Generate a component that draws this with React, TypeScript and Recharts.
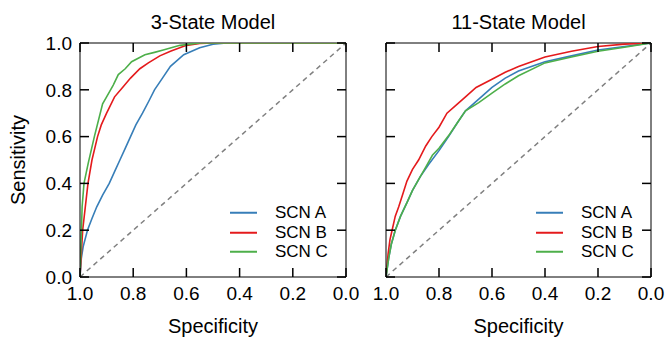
import React from "react";
import { LineChart, Line, XAxis, YAxis, Legend, ReferenceLine } from "recharts";

// ---- Data (specificity, sensitivity) ----
const tickValues = [0, 0.2, 0.4, 0.6, 0.8, 1.0];

// 3-State Model
const s3ASpec = [1, 0.995, 0.988, 0.972, 0.955, 0.937, 0.915, 0.89, 0.87, 0.85, 0.83, 0.81, 0.79, 0.765, 0.742, 0.72, 0.69, 0.66, 0.61, 0.55, 0.5, 0.45, 0];
const s3ASens = [0, 0.08, 0.13, 0.2, 0.25, 0.3, 0.35, 0.4, 0.45, 0.5, 0.55, 0.6, 0.65, 0.7, 0.75, 0.8, 0.85, 0.9, 0.95, 0.98, 0.995, 1, 1];
const s3BSpec = [1, 0.995, 0.99, 0.98, 0.97, 0.955, 0.934, 0.92, 0.9, 0.87, 0.84, 0.81, 0.775, 0.743, 0.7, 0.66, 0.6, 0.55, 0.5, 0];
const s3BSens = [0, 0.1, 0.2, 0.3, 0.4, 0.5, 0.6, 0.65, 0.7, 0.77, 0.81, 0.85, 0.89, 0.915, 0.945, 0.965, 0.99, 0.998, 1, 1];
const s3CSpec = [1, 0.996, 0.992, 0.985, 0.969, 0.946, 0.915, 0.9, 0.875, 0.856, 0.83, 0.806, 0.756, 0.72, 0.687, 0.624, 0.55, 0];
const s3CSens = [0, 0.15, 0.3, 0.4, 0.487, 0.6, 0.74, 0.77, 0.82, 0.865, 0.89, 0.92, 0.95, 0.96, 0.97, 0.99, 1, 1];

// 11-State Model
const s11ASpec = [1, 0.99, 0.98, 0.965, 0.945, 0.92, 0.9, 0.87, 0.84, 0.8, 0.764, 0.73, 0.7, 0.65, 0.6, 0.55, 0.5, 0.4, 0.3, 0.2, 0.1, 0];
const s11ASens = [0, 0.08, 0.14, 0.2, 0.26, 0.32, 0.37, 0.43, 0.48, 0.54, 0.6, 0.66, 0.71, 0.76, 0.81, 0.85, 0.88, 0.92, 0.945, 0.97, 0.985, 1];
const s11BSpec = [1, 0.992, 0.985, 0.977, 0.965, 0.952, 0.935, 0.921, 0.9, 0.877, 0.85, 0.827, 0.8, 0.77, 0.73, 0.7, 0.66, 0.6, 0.55, 0.5, 0.4, 0.3, 0.2, 0.1, 0];
const s11BSens = [0, 0.1, 0.16, 0.2, 0.26, 0.3, 0.36, 0.41, 0.46, 0.5, 0.56, 0.6, 0.64, 0.7, 0.74, 0.77, 0.81, 0.845, 0.875, 0.9, 0.94, 0.965, 0.985, 0.995, 1];
const s11CSpec = [1, 0.99, 0.98, 0.965, 0.945, 0.92, 0.9, 0.875, 0.85, 0.825, 0.8, 0.76, 0.73, 0.7, 0.65, 0.6, 0.55, 0.5, 0.4, 0.3, 0.2, 0.1, 0];
const s11CSens = [0, 0.08, 0.14, 0.2, 0.26, 0.32, 0.37, 0.42, 0.47, 0.52, 0.55, 0.61, 0.66, 0.71, 0.745, 0.786, 0.825, 0.86, 0.915, 0.94, 0.965, 0.982, 1];

const diagSpec = [1, 0];
const diagSens = [0, 1];

const seriesNames = ["SCN A", "SCN B", "SCN C"];
const seriesColors = ["#377eb8", "#e41a1c", "#4daf4a"];

const toPts = (xs: number[], ys: number[]) => xs.map((x, i) => ({ x, y: ys[i] }));

const FONT = '"Liberation Sans", Arial, Helvetica, sans-serif';
const fmt = (v: number) => v.toFixed(1);
const TICK_LEN = 9;
const TICK_W = 1.5;
const TICK_FS = 19;
const BOTTOM_MARGIN = 10;
const LEFT_MARGIN = 8;
const TICK_COLOR = "#000";
const CHART_H = 339;
const M_TOP = 43;
const M_BOTTOM = 32;
const X_AXIS_H = 30;
const PLOT_H = CHART_H - M_TOP - M_BOTTOM - X_AXIS_H;

// Bottom tick: label plus inward marks on bottom and top edges.
const makeBottomTick = () => (p: any) => {
  const px = Number(p.x);
  const axisY = Number(p.y) - BOTTOM_MARGIN;
  const topY = axisY - PLOT_H;
  return (
    <g>
      <rect x={px - TICK_W / 2} y={axisY - TICK_LEN} width={TICK_W} height={TICK_LEN} fill={TICK_COLOR} />
      <rect x={px - TICK_W / 2} y={topY} width={TICK_W} height={TICK_LEN} fill={TICK_COLOR} />
      <text x={px} y={Number(p.y)} dy="0.71em" textAnchor="middle" fontSize={TICK_FS} fontFamily={FONT} fill="#000">
        {fmt(p.payload.value)}
      </text>
    </g>
  );
};
// Left tick: optional label plus inward marks on left and right edges.
const makeLeftTick = (showLabel: boolean, plotW: number) => (p: any) => {
  const py = Number(p.y);
  const axisX = Number(p.x) + LEFT_MARGIN;
  const rightX = axisX + plotW;
  return (
    <g>
      <rect x={axisX} y={py - TICK_W / 2} width={TICK_LEN} height={TICK_W} fill={TICK_COLOR} />
      <rect x={rightX - TICK_LEN} y={py - TICK_W / 2} width={TICK_LEN} height={TICK_W} fill={TICK_COLOR} />
      {showLabel ? (
        <text x={Number(p.x)} y={py} dy="0.355em" textAnchor="end" fontSize={TICK_FS} fontFamily={FONT} fill="#000">
          {fmt(p.payload.value)}
        </text>
      ) : null}
    </g>
  );
};

const BottomTick = makeBottomTick();
const LeftTickPanel1 = makeLeftTick(true, 266);
const LeftTickPanel2 = makeLeftTick(false, 265);

const LegendBox = (props: any) => {
  const payload = (props.payload || []).filter((p: any) => p.type !== "none");
  return (
    <div style={{ fontFamily: FONT }}>
      {payload.map((p: any) => (
        <div key={p.value} style={{ display: "flex", alignItems: "center", height: 19.5 }}>
          <svg width={27} height={19.5} style={{ display: "block" }}>
            <line x1={0} x2={27} y1={9.75} y2={9.75} stroke={p.color} strokeWidth={2} />
          </svg>
          <span style={{ marginLeft: 18, fontSize: 17, lineHeight: "19.5px", color: "#000", whiteSpace: "nowrap" }}>{p.value}</span>
        </div>
      ))}
    </div>
  );
};

type PanelProps = {
  width: number;
  margin: { top: number; right: number; bottom: number; left: number };
  series: { x: number; y: number }[][];
  leftTick: any;
  legendLeft: number;
};

const axisLineStyle = { stroke: "#000", strokeWidth: 1 };

const Panel = ({ width, margin, series, leftTick, legendLeft }: PanelProps) => {
  const LeftTick = leftTick;
  return (
    <LineChart width={width} height={CHART_H} margin={margin} style={{ fontFamily: FONT }}>
      <XAxis
        xAxisId="bottom"
        type="number"
        dataKey="x"
        domain={[0, 1]}
        reversed
        ticks={tickValues}
        tick={<BottomTick />}
        tickSize={0}
        tickMargin={BOTTOM_MARGIN}
        tickLine={false}
        height={X_AXIS_H}
        allowDataOverflow
        axisLine={axisLineStyle}
        interval={0}
      />
      <YAxis
        yAxisId="left"
        type="number"
        dataKey="y"
        domain={[0, 1]}
        ticks={tickValues}
        tick={<LeftTick />}
        tickSize={0}
        tickMargin={LEFT_MARGIN}
        tickLine={false}
        width={40}
        allowDataOverflow
        axisLine={axisLineStyle}
        interval={0}
      />
      <ReferenceLine xAxisId="bottom" yAxisId="left" y={1} stroke="#000" strokeWidth={1} ifOverflow="visible" />
      <ReferenceLine xAxisId="bottom" yAxisId="left" x={0} stroke="#000" strokeWidth={1} ifOverflow="visible" />
      <Line
        xAxisId="bottom"
        yAxisId="left"
        data={toPts(diagSpec, diagSens)}
        dataKey="y"
        name="diag"
        legendType="none"
        stroke="#808080"
        strokeWidth={1.5}
        strokeDasharray="5 4"
        dot={false}
        isAnimationActive={false}
      />
      {series.map((pts, i) => (
        <Line
          key={seriesNames[i]}
          xAxisId="bottom"
          yAxisId="left"
          data={pts}
          dataKey="y"
          name={seriesNames[i]}
          stroke={seriesColors[i]}
          strokeWidth={1.6}
          dot={false}
          type="linear"
          isAnimationActive={false}
        />
      ))}
      <Legend
        layout="vertical"
        align="center"
        verticalAlign="middle"
        content={<LegendBox />}
        wrapperStyle={{ left: legendLeft, top: 203, width: "auto" }}
      />
    </LineChart>
  );
};

export default function App() {
  const left = [toPts(s3ASpec, s3ASens), toPts(s3BSpec, s3BSens), toPts(s3CSpec, s3CSens)];
  const right = [toPts(s11ASpec, s11ASens), toPts(s11BSpec, s11BSens), toPts(s11CSpec, s11CSens)];
  return (
    <div style={{ position: "fixed", left: 0, top: 0, width: 668, height: 339, background: "#fff", fontFamily: FONT }}>
      <div style={{ position: "absolute", left: 0, top: 0 }}>
        <Panel width={370} margin={{ top: M_TOP, right: 24, bottom: M_BOTTOM, left: 40 }} series={left} leftTick={LeftTickPanel1} legendLeft={230} />
      </div>
      <div style={{ position: "absolute", left: 346, top: 0 }}>
        <Panel width={322} margin={{ top: M_TOP, right: 17, bottom: M_BOTTOM, left: 0 }} series={right} leftTick={LeftTickPanel2} legendLeft={190} />
      </div>
      <svg width={668} height={339} style={{ position: "absolute", left: 0, top: 0, pointerEvents: "none" }}>
        <text x={213} y={29} textAnchor="middle" fontSize={20} fontFamily={FONT} fill="#000">3-State Model</text>
        <text x={518.5} y={29} textAnchor="middle" fontSize={20} fontFamily={FONT} fill="#000">11-State Model</text>
        <text x={213} y={333} textAnchor="middle" fontSize={20} fontFamily={FONT} fill="#000">Specificity</text>
        <text x={518.5} y={333} textAnchor="middle" fontSize={20} fontFamily={FONT} fill="#000">Specificity</text>
        <text x={25} y={160} textAnchor="middle" fontSize={20} fontFamily={FONT} fill="#000" transform="rotate(-90 25 160)">Sensitivity</text>
      </svg>
    </div>
  );
}
